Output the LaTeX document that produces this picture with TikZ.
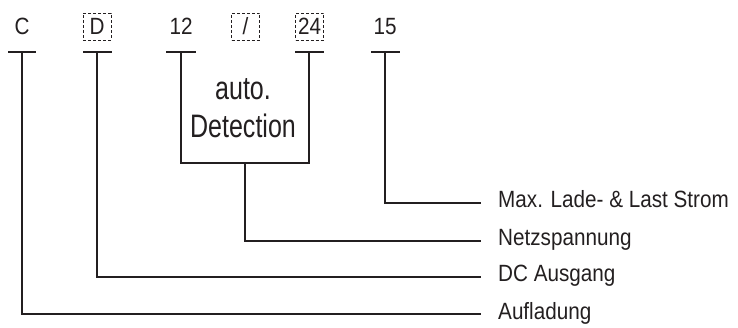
\documentclass[tikz,border=0pt]{standalone}
\usepackage{fontspec}
\newfontfamily\lblfont[FakeStretch=0.88]{Liberation Sans}
\newfontfamily\boxfont[FakeStretch=0.77]{Liberation Sans}
\definecolor{ink}{HTML}{231F20}
\tikzset{
  conn/.style={draw=ink, line width=2.5pt, line join=miter},
  tbar/.style={draw=ink, line width=2.5pt},
  toplbl/.style={font=\lblfont\fontsize{23.5}{26}\selectfont, text=ink, inner sep=0pt,
     text height=16.5pt, text depth=0pt, minimum width=28pt, minimum height=27pt},
  dbox/.style={toplbl, draw=ink, dash pattern=on 3pt off 2pt, line width=0.9pt},
  rlbl/.style={font=\lblfont\fontsize{23.5}{26}\selectfont, text=ink, inner sep=0pt, anchor=base west},
  detlbl/.style={font=\boxfont\fontsize{32.5}{38}\selectfont, text=ink, inner sep=0pt, anchor=base}
}
\begin{document}
\begin{tikzpicture}[x=1pt,y=-1pt]
\useasboundingbox (0,0) rectangle (738,328);
% top labels
\node[toplbl] (lC)  at (22,26.5)  {C};
\node[dbox]   (lD)  at (97,26.5)  {D};
\node[toplbl] (l12) at (181,26.5) {12};
\node[dbox]   (lSl) at (245.5,26.5) {/};
\node[dbox]   (l24) at (309.5,26.5) {24};
\node[toplbl] (l15) at (385,26.5) {15};
% T bar tops
\coordinate (tC)  at (22,52);
\coordinate (tD)  at (97,52);
\coordinate (t12) at (181,52);
\coordinate (t24) at (309,52);
\coordinate (t15) at (385,52);
\draw[tbar] (8,52) -- (36,52);
\draw[tbar] (83,52) -- (112,52);
\draw[tbar] (166,52) -- (196,52);
\draw[tbar] (295,52) -- (324,52);
\draw[tbar] (371,52) -- (400,52);
% auto detection
\node[detlbl] (auto) at (243,100) {auto.};
\node[detlbl] (det)  at (243,138) {Detection};
\coordinate (b12) at (181,163);
\coordinate (b24) at (309,163);
\coordinate (bmid) at (245,163);
% right labels
\node[rlbl] (rMax)  at (498,208) {Max. Lade- \& Last Strom};
\node[rlbl] (rNetz) at (498,246) {Netzspannung};
\node[rlbl] (rDC)   at (498,282) {DC Ausgang};
\node[rlbl] (rAuf)  at (498,319) {Aufladung};
\coordinate (eMax)  at (481,203);
\coordinate (eNetz) at (481,241);
\coordinate (eDC)   at (481,277);
\coordinate (eAuf)  at (481,314);
% connectors
\draw[conn] (t12) -- (b12) -- (b24) -- (t24);
\draw[conn] (bmid) |- (eNetz);
\draw[conn] (t15) |- (eMax);
\draw[conn] (tD) |- (eDC);
\draw[conn] (tC) |- (eAuf);
\end{tikzpicture}
\end{document}
